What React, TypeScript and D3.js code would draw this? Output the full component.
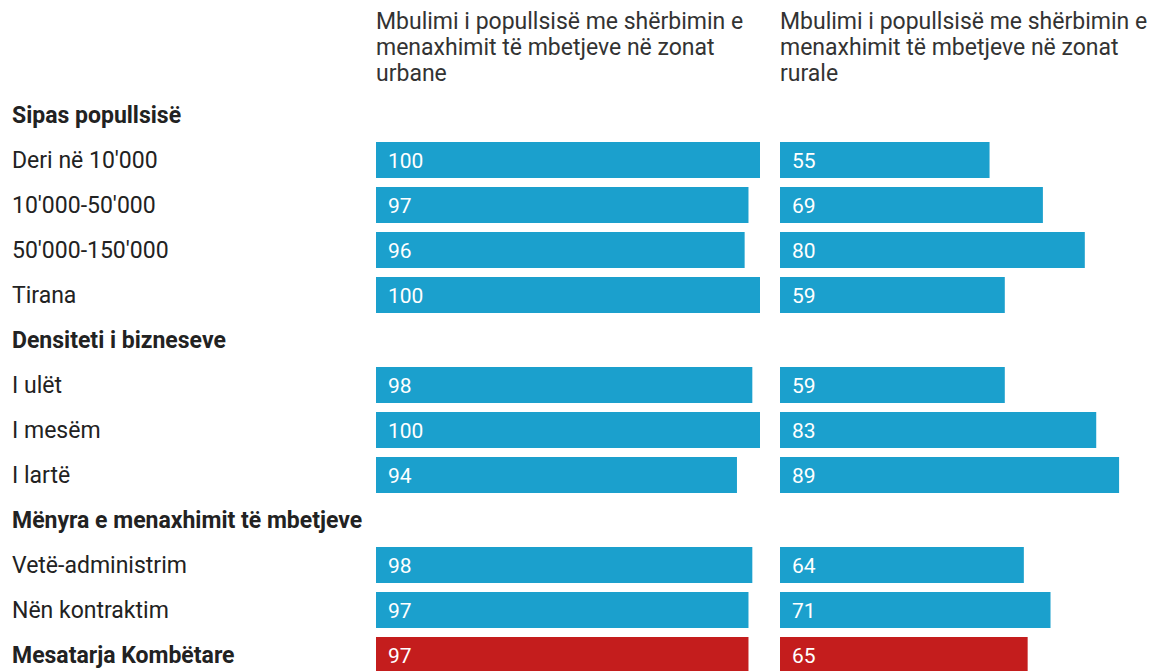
import React, { useEffect, useRef } from 'react';
import * as d3 from 'd3';

// rreshtat: null = titull grupi
const rowLabels = [
  'Sipas popullsisë',
  "Deri në 10'000",
  "10'000-50'000",
  "50'000-150'000",
  'Tirana',
  'Densiteti i bizneseve',
  'I ulët',
  'I mesëm',
  'I lartë',
  'Mënyra e menaxhimit të mbetjeve',
  'Vetë-administrim',
  'Nën kontraktim',
  'Mesatarja Kombëtare',
];
const urbanValues = [null, 100, 97, 96, 100, null, 98, 100, 94, null, 98, 97, 97];
const ruralValues = [null, 55, 69, 80, 59, null, 59, 83, 89, null, 64, 71, 65];
const boldRows = [0, 5, 9, 12];
const totalRow = 12;

const colTitles = [
  ['Mbulimi i popullsisë me shërbimin e', 'menaxhimit të mbetjeve në zonat', 'urbane'],
  ['Mbulimi i popullsisë me shërbimin e', 'menaxhimit të mbetjeve në zonat', 'rurale'],
];

const App = () => {
  const ref = useRef<SVGSVGElement>(null);

  useEffect(() => {
    const W = 1154, H = 671;
    const svg = d3.select(ref.current);
    svg.selectAll('*').remove();
    svg.attr('width', W).attr('height', H);

    const font = 'Roboto, "Noto Sans", sans-serif';

    const y = d3.scaleBand<number>()
      .domain(rowLabels.map((_, i) => i))
      .range([92.5, 92.5 + 45 * rowLabels.length])
      .paddingInner(0.2)
      .paddingOuter(0.1);

    const colX = [376, 780];
    const xs = [
      d3.scaleLinear().domain([0, 100]).range([0, 384]),
      d3.scaleLinear().domain([0, 100]).range([0, 381]),
    ];

    // titujt e kolonave
    colTitles.forEach((lines, c) => {
      const t = svg.append('text')
        .attr('x', colX[c])
        .attr('y', 29)
        .style('font-family', font)
        .style('font-size', '23px')
        .style('fill', '#333');
      lines.forEach((l, i) => {
        t.append('tspan').attr('x', colX[c]).attr('dy', i === 0 ? 0 : 26).text(l);
      });
    });

    // etiketat e rreshtave
    svg.selectAll('text.row')
      .data(rowLabels)
      .enter()
      .append('text')
      .attr('class', 'row')
      .attr('x', 12)
      .attr('y', (_, i) => y(i)! + y.bandwidth() / 2)
      .attr('dy', '0.35em')
      .style('font-family', font)
      .style('font-size', '23px')
      .style('font-weight', (_, i) => boldRows.includes(i) ? 700 : 400)
      .style('fill', '#222')
      .text(d => d);

    [urbanValues, ruralValues].forEach((vals, c) => {
      const g = svg.append('g').attr('transform', `translate(${colX[c]},0)`);
      const rows = vals.map((v, i) => ({ v, i })).filter(d => d.v !== null);
      g.selectAll('rect')
        .data(rows)
        .enter()
        .append('rect')
        .attr('x', 0)
        .attr('y', d => y(d.i)!)
        .attr('width', d => xs[c](d.v as number))
        .attr('height', y.bandwidth())
        .attr('fill', d => d.i === totalRow ? '#c41d1d' : '#1ba0cd');
      g.selectAll('text')
        .data(rows)
        .enter()
        .append('text')
        .attr('x', 12)
        .attr('y', d => y(d.i)! + y.bandwidth() / 2)
        .attr('dy', '0.36em')
        .style('font-family', font)
        .style('font-size', '21px')
        .style('fill', '#fff')
        .text(d => String(d.v));
    });
  }, []);

  return <svg ref={ref} style={{ position: 'absolute', left: 0, top: 0, background: '#fff' }} />;
};

export default App;
